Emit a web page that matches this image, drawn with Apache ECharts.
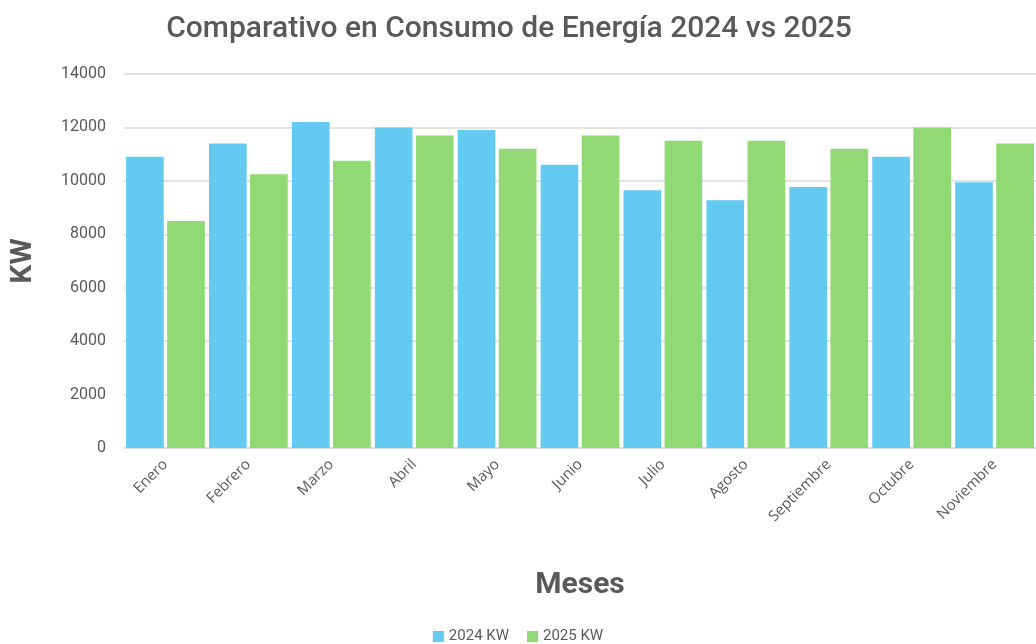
<!DOCTYPE html>
<html>
<head>
<meta charset="utf-8">
<script src="https://cdn.jsdelivr.net/npm/echarts@6/dist/echarts.min.js"></script>
<style>
  html, body { margin: 0; padding: 0; background: #fff; }
  #chart { width: 1036px; height: 644px; }
</style>
</head>
<body>
<div id="chart"></div>
<script>
// meses y consumo (KW)
const months = ['Enero', 'Febrero', 'Marzo', 'Abril', 'Mayo', 'Junio', 'Julio', 'Agosto', 'Septiembre', 'Octubre', 'Noviembre']
const kw2024 = [10900, 11400, 12200, 12000, 11900, 10600, 9650, 9270, 9770, 10900, 9950]
const kw2025 = [8500, 10250, 10750, 11700, 11200, 11700, 11500, 11500, 11200, 12000, 11400]

const TEXT = '#595959'
const GRID_LINE = '#d9d9d9'

const chart = echarts.init(document.getElementById('chart'))

chart.setOption({
  animation: false,
  title: {
    text: 'Comparativo en Consumo de Energía 2024 vs 2025',
    left: 504,
    textAlign: 'center',
    top: 9,
    textStyle: {
      fontFamily: 'Roboto, sans-serif',
      fontWeight: 500,
      fontSize: 30,
      color: TEXT,
    },
  },
  legend: {
    data: ['2024 KW', '2025 KW'],
    top: 624,
    left: 'center',
    itemWidth: 11,
    itemHeight: 11,
    itemGap: 18,
    icon: 'rect',
    textStyle: { color: TEXT, fontSize: 15, fontFamily: 'Roboto, sans-serif' },
  },
  grid: {
    left: 118,
    right: 0,
    top: 74,
    bottom: 196,
    containLabel: false,
  },
  xAxis: {
    type: 'category',
    data: months,
    name: 'Meses',
    nameLocation: 'middle',
    nameGap: 122,
    nameTextStyle: {
      color: TEXT,
      fontSize: 30,
      fontWeight: 'bold',
      fontFamily: 'Roboto, sans-serif',
    },
    axisLine: { lineStyle: { color: GRID_LINE, width: 1.5 } },
    axisTick: { show: false },
    axisLabel: {
      rotate: 45,
      color: TEXT,
      fontSize: 15,
      margin: 14,
      fontFamily: '"Open Sans", sans-serif',
      interval: 0,
    },
  },
  yAxis: {
    type: 'value',
    min: 0,
    max: 14000,
    interval: 2000,
    name: 'KW',
    nameLocation: 'middle',
    nameGap: 86,
    nameTextStyle: {
      color: TEXT,
      fontSize: 30,
      fontWeight: 'bold',
      fontFamily: 'Roboto, sans-serif',
    },
    axisLine: { show: false },
    axisTick: { show: false },
    axisLabel: {
      color: TEXT,
      fontSize: 16,
      margin: 18,
      fontFamily: 'Roboto, sans-serif',
      formatter: (v) => String(v),
    },
    splitLine: { lineStyle: { color: GRID_LINE, width: 1.5 } },
  },
  series: [
    {
      name: '2024 KW',
      type: 'bar',
      data: kw2024,
      barGap: '9%',
      barCategoryGap: '5%',
      itemStyle: { color: '#63caf2' },
    },
    {
      name: '2025 KW',
      type: 'bar',
      data: kw2025,
      itemStyle: { color: '#90d975' },
    },
  ],
})
</script>
</body>
</html>
